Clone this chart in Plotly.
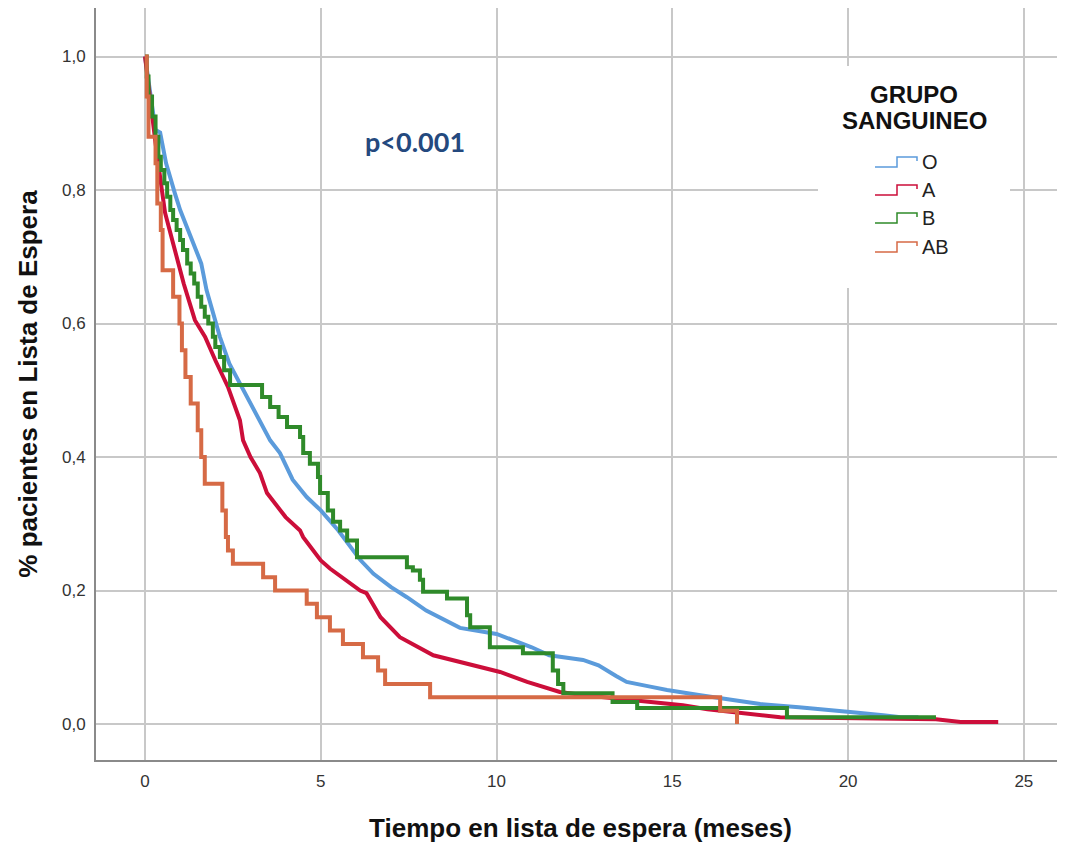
import plotly.graph_objects as go

# Curvas de Kaplan-Meier (tiempo en meses, proporción en lista de espera)
t_O = [0, 0.1, 0.2, 0.3, 0.43, 0.6, 0.85, 1.0, 1.3, 1.6, 1.75, 1.99, 2.13, 2.4, 2.76, 3.1, 3.56,
       3.84, 4.2, 4.6, 5.0, 5.5, 6.12, 6.5, 7.0, 7.45, 8.0, 8.96, 10.0, 11.0, 11.5, 12.46, 12.9,
       13.4, 13.7, 14.37, 14.85, 15.8, 16.7, 17.5, 18.6, 19.3, 20.06, 21.0, 21.5, 22.0]
s_O = [1.0, 0.96, 0.92, 0.89, 0.886, 0.84, 0.795, 0.77, 0.73, 0.69, 0.65, 0.605, 0.58, 0.54, 0.505,
       0.47, 0.425, 0.406, 0.366, 0.34, 0.32, 0.29, 0.246, 0.225, 0.205, 0.19, 0.17, 0.144, 0.135,
       0.115, 0.103, 0.096, 0.088, 0.072, 0.063, 0.056, 0.051, 0.043, 0.036, 0.03, 0.025, 0.021,
       0.018, 0.013, 0.01, 0.01]

t_A = [0, 0.15, 0.3, 0.48, 0.57, 0.8, 1.1, 1.42, 1.71, 2.0, 2.36, 2.7, 2.79, 3.0, 3.27, 3.47, 4.0,
       4.41, 4.5, 5.0, 5.26, 6.12, 6.3, 6.7, 7.25, 8.2, 9.16, 10.1, 10.87, 11.8, 12.5, 13.5, 14.2,
       15.3, 16.0, 17.0, 18.07, 22.5, 23.2, 24.27]
s_A = [1.0, 0.93, 0.87, 0.8, 0.766, 0.72, 0.66, 0.605, 0.58, 0.545, 0.505, 0.455, 0.425, 0.4,
       0.376, 0.346, 0.31, 0.29, 0.28, 0.245, 0.233, 0.2, 0.196, 0.16, 0.13, 0.103, 0.091, 0.078,
       0.063, 0.048, 0.043, 0.038, 0.033, 0.028, 0.022, 0.016, 0.01, 0.007, 0.003, 0.003]

t_B = [0, 0.05, 0.1, 0.2, 0.3, 0.38, 0.45, 0.55, 0.63, 0.72, 0.8, 0.9, 1.0, 1.08, 1.2, 1.3, 1.4,
       1.5, 1.6, 1.7, 1.8, 1.93, 2.0, 2.13, 2.25, 2.42, 3.33, 3.56, 3.8, 4.04, 4.41, 4.5, 4.69,
       4.92, 4.98, 5.2, 5.35, 5.55, 5.75, 6.03, 7.45, 7.62, 7.82, 7.91, 8.59, 9.16, 9.25, 9.81,
       10.75, 11.6, 11.75, 11.9, 13.3, 14.0, 18.26, 22.5]
s_B = [1.0, 0.97, 0.94, 0.91, 0.88, 0.85, 0.83, 0.81, 0.79, 0.77, 0.755, 0.74, 0.725, 0.71,
       0.69, 0.675, 0.66, 0.64, 0.625, 0.61, 0.6, 0.58, 0.565, 0.55, 0.53, 0.508, 0.49, 0.475,
       0.46, 0.445, 0.43, 0.406, 0.39, 0.37, 0.346, 0.32, 0.303, 0.29, 0.275, 0.25, 0.235, 0.23,
       0.216, 0.198, 0.188, 0.163, 0.145, 0.115, 0.106, 0.08, 0.06, 0.046, 0.033, 0.024, 0.01,
       0.01]

t_AB = [0, 0.05, 0.1, 0.3, 0.35, 0.45, 0.5, 0.8, 0.98, 1.05, 1.15, 1.3, 1.5, 1.6, 1.7, 2.2, 2.3,
        2.36, 2.5, 3.36, 3.7, 4.6, 4.89, 5.26, 5.63, 6.2, 6.63, 6.83, 8.11, 16.36, 16.84]
s_AB = [1.0, 0.94, 0.88, 0.84, 0.78, 0.74, 0.68, 0.64, 0.6, 0.56, 0.52, 0.48, 0.44, 0.4, 0.36,
        0.32, 0.28, 0.26, 0.24, 0.22, 0.2, 0.18, 0.16, 0.14, 0.12, 0.1, 0.08, 0.06, 0.04, 0.02, 0.0]

grupos = ["O", "A", "B", "AB"]
colores = ["#5b9bdb", "#cc0e3a", "#2f8a2a", "#d66a45"]

x_ticks = [0, 5, 10, 15, 20, 25]
y_ticks = [0.0, 0.2, 0.4, 0.6, 0.8, 1.0]
y_ticktext = ["0,0", "0,2", "0,4", "0,6", "0,8", "1,0"]

# la página tiene 8 px de margen propio; el área de trazado va de x=96 a 1065 y de y=8 a 760
W, H = 1065, 848
ML, MR, MT, MB = 88, 8, 0, 96
PLOT_W = W - ML - MR
PLOT_H = H - MT - MB


def px(x):
    # coordenada de página -> papel
    return (x - 8 - ML) / PLOT_W


def py(y):
    return (PLOT_H - (y - 8 - MT)) / PLOT_H


fig = go.Figure()
series = [(t_O, s_O, "linear"), (t_A, s_A, "linear"), (t_B, s_B, "hv"), (t_AB, s_AB, "hv")]
for (t, s, shape), nombre, col in zip(series, grupos, colores):
    fig.add_trace(go.Scatter(x=t, y=s, mode="lines", name=nombre,
                             line=dict(color=col, width=4, shape=shape),
                             showlegend=False))

# leyenda dibujada a mano (iconos escalonados como en SPSS)
shapes = [dict(type="rect", xref="paper", yref="paper", x0=px(818), x1=px(1010),
               y0=py(288), y1=py(66), fillcolor="white", line=dict(width=0), layer="above")]
annotations = [
    dict(text="<b>GRUPO</b>", x=px(914), y=py(94), xref="paper", yref="paper",
         xanchor="center", yanchor="middle", showarrow=False,
         font=dict(family="Liberation Sans", size=24, color="#111")),
    dict(text="<b>SANGUINEO</b>", x=px(914), y=py(121), xref="paper", yref="paper",
         xanchor="center", yanchor="middle", showarrow=False,
         font=dict(family="Liberation Sans", size=24, color="#111")),
    dict(text="<b>p<0.001</b>", x=px(415), y=py(141), xref="paper", yref="paper",
         xanchor="center", yanchor="middle", showarrow=False,
         font=dict(family="Lato", size=27, color="#24497e")),
]
rows = [162, 190, 218, 247]
for nombre, col, ry in zip(grupos, colores, rows):
    x0, x1, x2 = px(875), px(897), px(917)
    ylo, yhi, yend = py(ry + 5), py(ry - 5), py(ry - 1)
    path = f"M {x0},{ylo} L {x1},{ylo} L {x1},{yhi} L {x2},{yhi} L {x2},{yend}"
    shapes.append(dict(type="path", xref="paper", yref="paper", path=path,
                       line=dict(color=col, width=1.5), layer="above"))
    annotations.append(dict(text=nombre, x=px(920), y=py(ry), xref="paper", yref="paper",
                            xanchor="left", yanchor="middle", showarrow=False,
                            font=dict(family="Liberation Sans", size=20, color="#222")))

fig.update_layout(
    width=W, height=H,
    margin=dict(l=ML, r=MR, t=MT, b=MB),
    plot_bgcolor="white", paper_bgcolor="white",
    shapes=shapes, annotations=annotations,
    font=dict(family="Liberation Sans", color="#333"),
)
fig.update_xaxes(range=[-1.394, 26.17], tickvals=x_ticks, showgrid=True,
                 gridcolor="#c8c8c8", gridwidth=2, zeroline=False,
                 showline=True, linecolor="#8a8a8a", linewidth=2,
                 tickfont=dict(size=17, color="#333"), ticklabelstandoff=5,
                 title=dict(text="<b>Tiempo en lista de espera (meses)</b>", standoff=28,
                            font=dict(size=26, color="#111")))
fig.update_yaxes(range=[-0.0539, 1.0727], tickvals=y_ticks, ticktext=y_ticktext,
                 showgrid=True, gridcolor="#c8c8c8", gridwidth=2, zeroline=False,
                 showline=True, linecolor="#8a8a8a", linewidth=2,
                 tickfont=dict(size=17, color="#333"), ticklabelstandoff=5,
                 title=dict(text="<b>% pacientes en Lista de Espera</b>", standoff=17,
                            font=dict(size=26, color="#111")))

fig.write_html("out.html")
